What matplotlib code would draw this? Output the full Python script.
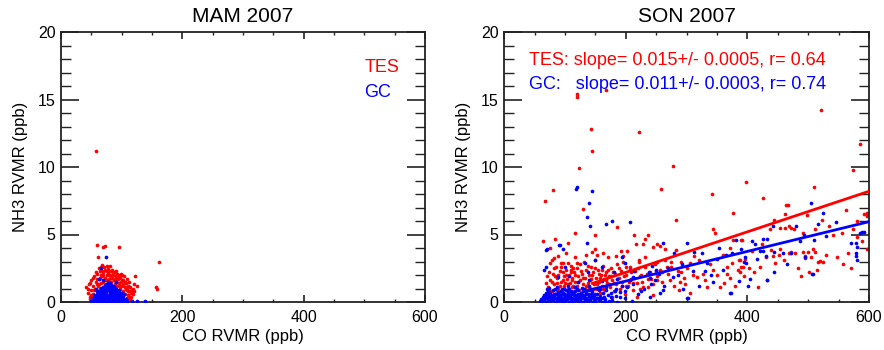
import matplotlib
matplotlib.use("Agg")
import matplotlib.pyplot as plt
import numpy as np
from matplotlib.ticker import MultipleLocator

plt.rcParams['font.family'] = ['Liberation Sans', 'DejaVu Sans']

# ---------------- data (CO ppb, NH3 ppb) ----------------
TES_MAM = [
    (57, 11.2), (60, 4.2), (69, 4.05), (72, 4.15), (95, 4.05), (61, 3.3), (161, 2.96),
    (62, 2.5), (66, 2.6), (68, 2.75), (75, 2.7), (80, 2.7), (78, 2.45), (122, 1.9),
    (156, 1.1), (158, 0.95), (125, 1.2),
    (42, 1.1), (44, 0.7), (46, 1.3), (47, 0.4), (49, 0.9), (50, 1.6), (52, 0.6), (53, 1.2),
    (55, 0.3), (55, 1.9), (57, 0.9), (58, 1.5), (59, 0.5), (60, 2.1), (61, 1.2), (62, 0.8),
    (63, 1.7), (64, 2.3), (65, 1.0), (66, 1.4), (67, 1.9), (68, 0.6), (69, 2.2), (70, 1.5),
    (71, 1.1), (72, 1.8), (73, 2.4), (74, 1.3), (75, 2.0), (76, 1.6), (77, 0.9), (78, 2.2),
    (79, 1.7), (80, 1.3), (81, 2.0), (82, 1.5), (83, 2.3), (84, 1.8), (85, 1.1), (86, 2.0),
    (87, 1.6), (88, 2.2), (89, 1.3), (90, 1.9), (91, 1.5), (92, 2.1), (93, 1.2), (94, 1.7),
    (95, 2.0), (96, 1.4), (97, 1.0), (98, 1.8), (99, 1.5), (100, 2.0), (101, 1.2), (102, 0.8),
    (103, 1.6), (104, 1.9), (105, 1.1), (106, 0.6), (107, 1.4), (108, 1.7), (109, 0.9),
    (110, 1.2), (111, 0.5), (112, 1.5), (113, 0.8), (114, 1.1), (116, 0.4), (117, 0.9),
    (119, 0.6), (120, 1.3), (48, 0.2), (51, 0.1), (56, 1.0), (59, 1.3), (63, 0.3), (66, 2.0),
    (71, 2.6), (77, 2.1), (84, 2.4), (91, 2.3), (99, 2.1), (103, 0.3), (108, 0.3), (113, 0.2),
    (45, 1.0), (48, 1.4), (52, 1.8), (54, 0.9), (57, 2.2), (60, 1.7), (62, 1.3), (65, 1.8),
    (67, 2.3), (70, 2.0), (73, 1.6), (76, 2.3), (79, 2.0), (82, 1.8), (85, 2.1), (88, 1.7),
    (90, 1.6), (93, 1.8), (96, 1.9), (98, 1.2), (100, 1.6), (102, 1.3), (105, 1.5), (107, 1.0),
    (110, 0.8), (112, 1.1), (115, 0.7), (118, 1.0), (121, 0.8), (50, 0.5), (53, 0.4),
    (114, 0.4), (110, 0.5),
]

GC_MAM = [
    (50, 0.05), (53, 0.1), (57, 0.0), (61, 0.08), (64, 0.02), (68, 0.1), (71, 0.04), (75, 0.0),
    (79, 0.07), (82, 0.03), (86, 0.09), (89, 0.01), (93, 0.06), (97, 0.02), (101, 0.08),
    (105, 0.03), (109, 0.05),
    (52, 0.28), (56, 0.33), (59, 0.25), (63, 0.35), (67, 0.3), (70, 0.27), (74, 0.36), (77, 0.31),
    (81, 0.26), (85, 0.34), (88, 0.29), (92, 0.37), (95, 0.25), (99, 0.32), (103, 0.28), (107, 0.22),
    (55, 0.52), (59, 0.58), (62, 0.5), (66, 0.6), (69, 0.55), (73, 0.62), (77, 0.53), (80, 0.59),
    (84, 0.51), (87, 0.57), (91, 0.6), (94, 0.54), (98, 0.49), (102, 0.45),
    (60, 0.78), (64, 0.83), (67, 0.76), (71, 0.85), (74, 0.8), (78, 0.88), (81, 0.79), (85, 0.84),
    (89, 0.77), (93, 0.81), (96, 0.74), (100, 0.7),
    (66, 1.02), (70, 1.08), (73, 1.0), (77, 1.1), (80, 1.05), (84, 0.98), (88, 1.06), (91, 0.95),
    (72, 1.25), (76, 1.3), (79, 1.22), (83, 1.28), (86, 1.18), (78, 1.45), (81, 1.38),
    (74, 3.3), (66, 2.5), (62, 1.7), (90, 1.5), (117, 0.05), (125, 0.05), (139, 0.05),
    (58, 1.0), (96, 0.9), (104, 0.6), (70, 1.6), (83, 0.9),
    (54, 0.18), (60, 0.2), (66, 0.18), (72, 0.2), (78, 0.18), (84, 0.2), (90, 0.18), (96, 0.2),
    (102, 0.18), (106, 0.15), (58, 0.42), (64, 0.45), (70, 0.44), (76, 0.42), (82, 0.45),
    (88, 0.43), (94, 0.44), (100, 0.4), (62, 0.68), (68, 0.7), (74, 0.72), (80, 0.7), (86, 0.7),
    (92, 0.68), (98, 0.62), (68, 0.92), (74, 0.95), (80, 0.94), (86, 0.92), (92, 0.88),
    (75, 1.15), (82, 1.15), (88, 1.15),
]

TES_SON = [
    # outliers
    (119, 15.4), (120, 15.2), (167, 15.7), (142, 12.8), (144, 11.2), (222, 12.6), (123, 9.9),
    (278, 10.1), (80, 8.3), (67, 7.5), (129, 6.9), (258, 8.4), (397, 8.9), (341, 8.0),
    (283, 6.1), (377, 6.6), (426, 7.7), (510, 8.5), (521, 14.2), (585, 11.7), (573, 9.8),
    (596, 6.6), (597, 6.4), (580, 6.0), (562, 6.8), (597, 3.9), (558, 2.8), (525, 3.0),
    (508, 3.9), (484, 2.5), (464, 7.2), (467, 7.2), (462, 6.5), (443, 6.1), (468, 5.6),
    (461, 5.5), (472, 5.5), (498, 6.45), (523, 6.1), (534, 5.6), (592, 6.5), (580, 4.8),
    (389, 4.6), (424, 4.3), (439, 3.85), (468, 3.65), (471, 3.7), (492, 3.7), (500, 3.7),
    (511, 3.7), (504, 3.3), (516, 3.0), (519, 3.05), (495, 3.25), (452, 3.5), (442, 3.4),
    (390, 2.6), (403, 2.5), (386, 3.1), (437, 5.4), (454, 5.5), (476, 5.4), (492, 5.1),
    (511, 5.4), (541, 5.0), (555, 5.1), (574, 5.4), (470, 3.6), (454, 3.9), (495, 3.4),
    (344, 5.4), (346, 5.1), (371, 4.0), (377, 4.6), (391, 4.6), (360, 3.5), (388, 3.1),
    (407, 3.75), (421, 2.6), (366, 2.1),
    # mid region
    (236, 5.0), (213, 5.0), (231, 4.7), (217, 4.3), (229, 4.3), (245, 4.1), (251, 4.3),
    (256, 4.15), (264, 3.9), (283, 3.85), (231, 3.35), (222, 3.1), (202, 3.8), (196, 3.4),
    (251, 3.0), (267, 2.6), (305, 2.9), (312, 3.4), (327, 2.1), (344, 2.4), (366, 2.6),
    (387, 2.25), (355, 1.1), (334, 1.1), (317, 1.85), (289, 1.5), (273, 1.6), (251, 1.6),
    (223, 1.9), (212, 1.4), (201, 1.2), (224, 1.0), (237, 1.1), (245, 0.5), (218, 0.4),
    (305, 0.65), (288, 0.9), (371, 1.8), (392, 2.6), (396, 3.2), (385, 2.4),
    (260, 2.2), (275, 3.0), (290, 2.2), (298, 1.3), (310, 2.0), (320, 3.1), (330, 1.6),
    (338, 2.8), (350, 2.0), (362, 1.4), (375, 2.9), (380, 1.2), (395, 1.9), (410, 2.2),
    (418, 1.1), (430, 3.3), (446, 2.9), (460, 3.1), (478, 3.6), (488, 1.9), (502, 2.2),
    (515, 2.4), (530, 3.5), (548, 3.3), (565, 3.6), (570, 2.5), (588, 4.5),
    (149, 4.95), (117, 5.1), (83, 4.65), (63, 4.5), (105, 4.35), (76, 4.0), (192, 3.8),
    (186, 5.55), (144, 3.7), (152, 3.5), (82, 3.25), (79, 3.1), (109, 2.35), (93, 2.9),
    # dense cluster
    (70, 0.5), (72, 1.1), (75, 1.6), (78, 0.8), (80, 2.1), (82, 1.3), (84, 0.6), (85, 2.6),
    (87, 1.8), (88, 1.0), (90, 0.4), (91, 2.3), (93, 1.5), (95, 0.9), (96, 2.9), (98, 1.9),
    (99, 1.2), (100, 0.6), (101, 2.4), (103, 1.7), (104, 1.0), (106, 2.0), (107, 0.5),
    (108, 1.4), (110, 2.7), (111, 1.1), (112, 1.8), (114, 0.8), (115, 2.2), (116, 1.5),
    (118, 0.4), (119, 2.5), (120, 1.2), (121, 1.9), (123, 0.9), (124, 2.8), (125, 1.6),
    (127, 0.7), (128, 2.1), (129, 1.3), (131, 3.0), (132, 1.0), (133, 1.8), (135, 2.4),
    (136, 0.6), (137, 1.4), (139, 2.0), (140, 1.1), (142, 2.6), (143, 1.7), (145, 0.9),
    (146, 2.2), (148, 1.3), (150, 3.1), (151, 1.8), (153, 1.0), (154, 2.4), (156, 1.5),
    (158, 0.7), (159, 2.0), (161, 1.2), (162, 2.7), (164, 1.7), (166, 0.9), (167, 2.2),
    (169, 1.4), (171, 3.3), (172, 1.9), (174, 1.1), (176, 2.5), (178, 1.6), (180, 0.8),
    (182, 2.1), (184, 1.3), (186, 2.8), (188, 1.8), (190, 1.0), (192, 2.3), (194, 1.5),
    (196, 3.0), (198, 0.6), (200, 2.0), (203, 1.2), (206, 2.6), (209, 1.7), (212, 0.9),
    (215, 2.3), (218, 1.4), (222, 3.0), (225, 2.0), (228, 1.1), (232, 2.6), (236, 1.7),
    (240, 2.2), (244, 1.3), (248, 2.8), (252, 1.9), (256, 2.4), (260, 1.5), (265, 3.1),
    (270, 2.1), (275, 2.6), (280, 1.2), (285, 2.3), (290, 3.0), (295, 1.8), (300, 2.5),
    (76, 2.9), (89, 3.4), (94, 0.2), (102, 3.6), (117, 3.3), (126, 0.3), (134, 3.5),
    (141, 0.4), (149, 3.9), (157, 0.3), (163, 3.6), (177, 0.4), (183, 3.4), (68, 1.4),
    (73, 2.2), (77, 0.3), (86, 1.4), (92, 0.7), (97, 1.6), (105, 2.9), (113, 1.2), (122, 0.5),
    (71, 1.9), (74, 0.9), (79, 1.5), (81, 2.5), (83, 1.9), (86, 0.9), (89, 2.0), (92, 1.2),
    (94, 2.6), (97, 2.2), (100, 1.4), (102, 2.0), (105, 1.3), (109, 2.2), (111, 1.6),
    (113, 2.5), (117, 2.0), (120, 2.9), (122, 1.5), (126, 2.3), (130, 1.8), (134, 1.2),
    (138, 2.7), (141, 1.6), (144, 2.0), (147, 1.0), (149, 2.5), (152, 1.3), (155, 2.1),
    (157, 1.8), (160, 2.4), (163, 1.0), (165, 2.0), (168, 1.6), (170, 2.4), (173, 1.3),
    (175, 1.9), (179, 2.2), (181, 1.4), (185, 1.7), (189, 2.5), (193, 1.2), (197, 1.9),
    (201, 2.6), (205, 1.5), (208, 2.2), (214, 1.8), (220, 2.5), (226, 1.5), (234, 2.1),
    (242, 1.7), (250, 2.3),
]

GC_SON = [
    # outliers / mid
    (118, 8.4), (120, 8.5), (144, 8.2), (139, 7.3), (136, 6.3), (141, 5.6), (178, 6.0),
    (167, 5.8), (206, 5.9), (70, 3.9), (90, 4.2), (504, 7.3), (524, 6.6), (546, 5.9),
    (506, 2.1), (586, 5.1), (578, 4.4), (580, 4.1), (578, 3.4), (371, 0.7), (432, 1.6),
    (300, 0.3), (405, 1.7), (261, 4.4), (279, 3.65), (301, 4.35), (312, 3.7), (325, 3.6),
    (334, 2.9), (353, 4.0), (382, 4.6), (365, 3.5), (395, 3.0), (243, 2.7), (238, 2.2),
    (207, 2.4), (199, 2.9), (193, 3.3), (278, 1.85), (294, 0.95), (261, 0.9), (256, 0.7),
    (302, 0.3), (373, 0.7), (344, 1.5), (330, 2.3), (386, 1.55), (390, 3.9), (516, 5.8),
    (589, 5.2), (592, 5.2), (442, 5.6), (480, 5.65), (493, 5.0), (487, 4.5), (408, 4.5),
    (412, 4.3), (425, 4.65), (433, 4.65), (426, 3.8), (420, 3.8), (396, 3.35), (398, 2.9),
    (415, 3.2), (431, 3.4), (444, 3.7), (458, 3.6), (471, 3.6), (465, 2.8), (495, 3.3),
    (508, 2.1), (443, 2.2), (433, 1.6), (401, 1.2), (571, 4.4), (579, 3.6), (581, 3.1),
    (510, 4.6), (530, 4.9), (350, 3.2), (360, 2.4), (375, 3.6), (69, 3.85), (92, 4.25),
    (96, 3.9), (136, 4.4), (132, 2.9), (66, 2.35), (68, 2.6), (150, 3.1), (160, 2.6),
    # dense cluster
    (58, 0.1), (62, 0.05), (66, 0.15), (69, 0.0), (73, 0.12), (76, 0.04), (80, 0.18),
    (84, 0.02), (87, 0.1), (91, 0.15), (95, 0.0), (98, 0.08), (102, 0.16), (106, 0.03),
    (110, 0.11), (113, 0.0), (117, 0.14), (121, 0.05), (125, 0.1), (129, 0.02), (133, 0.15),
    (137, 0.06), (141, 0.12), (146, 0.0), (150, 0.09), (155, 0.14), (160, 0.03), (166, 0.1),
    (172, 0.05), (178, 0.12), (186, 0.02),
    (63, 0.35), (67, 0.42), (71, 0.3), (74, 0.48), (78, 0.38), (82, 0.45), (86, 0.32),
    (89, 0.5), (93, 0.4), (97, 0.33), (100, 0.47), (104, 0.36), (108, 0.44), (112, 0.3),
    (115, 0.49), (119, 0.39), (123, 0.34), (127, 0.46), (131, 0.41), (135, 0.31),
    (139, 0.48), (144, 0.37), (148, 0.43), (153, 0.32), (158, 0.46), (164, 0.38),
    (170, 0.5), (176, 0.35), (183, 0.44), (190, 0.4),
    (68, 0.65), (72, 0.8), (76, 0.7), (80, 0.88), (85, 0.62), (89, 0.75), (93, 0.85),
    (97, 0.68), (101, 0.9), (105, 0.72), (109, 0.83), (113, 0.64), (117, 0.78), (121, 0.92),
    (126, 0.7), (130, 0.82), (135, 0.66), (140, 0.88), (145, 0.74), (150, 0.62),
    (156, 0.86), (162, 0.7), (168, 0.9), (175, 0.66), (182, 0.8), (190, 0.72), (198, 0.85),
    (74, 1.05), (86, 1.1), (98, 1.0), (104, 1.2), (116, 1.08), (128, 1.02), (140, 1.15),
    (154, 1.05), (168, 1.12), (184, 1.0), (193, 1.22), (202, 1.1), (212, 1.32),
    (88, 1.85), (106, 1.95), (122, 1.5), (140, 1.65), (160, 1.52), (185, 1.7), (212, 1.85),
    (240, 1.75),
    (100, 2.6), (137, 2.2), (180, 2.2), (214, 2.3), (250, 2.4),
    (206, 1.6), (220, 0.6), (230, 1.0), (242, 1.3), (248, 1.6), (255, 2.1), (262, 1.2),
    (270, 2.5), (285, 2.0), (292, 2.8), (310, 2.3), (320, 1.2), (340, 2.0), (225, 0.8),
    (198, 0.3), (210, 0.1), (165, 0.2), (240, 0.4),
    (60, 0.25), (64, 0.22), (68, 0.28), (72, 0.2), (75, 0.26), (79, 0.24), (83, 0.27),
    (86, 0.21), (90, 0.29), (94, 0.23), (99, 0.26), (103, 0.2), (107, 0.28), (111, 0.22),
    (116, 0.27), (120, 0.24), (124, 0.21), (128, 0.29), (132, 0.25), (136, 0.2), (142, 0.27),
    (147, 0.23), (152, 0.28), (157, 0.21), (162, 0.26),
    (66, 0.55), (70, 0.58), (74, 0.6), (77, 0.54), (81, 0.6), (84, 0.56), (88, 0.59),
    (92, 0.55), (96, 0.6), (99, 0.57), (103, 0.55), (107, 0.6), (111, 0.56), (114, 0.58),
    (118, 0.55), (122, 0.6), (126, 0.57), (130, 0.55), (134, 0.59), (138, 0.56), (143, 0.6),
    (148, 0.55), (152, 0.58),
    (71, 0.95), (83, 0.93), (95, 0.95), (107, 0.94), (119, 0.96), (131, 0.99), (143, 1.0),
    (157, 0.97),
]

# fitted lines (slope, intercept) as shown in the panel
TES_FIT = (0.015, -0.80)
GC_FIT = (0.011, -0.65)
TES_FIT_RANGE = (145, 600)
GC_FIT_RANGE = (135, 600)

TITLES = ["MAM 2007", "SON 2007"]
XTICKS = [0, 200, 400, 600]
YTICKS = [0, 5, 10, 15, 20]

RED = '#ff0000'
BLUE = '#0000ff'

fig = plt.figure(figsize=(8.84, 3.5), dpi=100)
ax1 = fig.add_axes([61 / 884, 1 - 302 / 350, 364 / 884, 270 / 350])
ax2 = fig.add_axes([504.3 / 884, 1 - 302 / 350, 364.7 / 884, 270 / 350])

ms = 7


def style(ax, title):
    ax.set_xlim(0, 600)
    ax.set_ylim(0, 20)
    ax.set_xticks(XTICKS)
    ax.set_yticks(YTICKS)
    ax.xaxis.set_minor_locator(MultipleLocator(50))
    ax.yaxis.set_minor_locator(MultipleLocator(1))
    ax.tick_params(axis='x', which='major', direction='in', length=5, width=1.2,
                   top=True, bottom=True, labelsize=11.5, pad=6, color='#222222')
    ax.tick_params(axis='x', which='minor', direction='in', length=2.5, width=1.0,
                   top=True, bottom=True, color='#222222')
    ax.tick_params(axis='y', which='major', direction='in', length=13, width=1.2,
                   left=True, right=True, labelsize=11.5, pad=4, color='#222222')
    ax.tick_params(axis='y', which='minor', direction='in', length=7, width=1.0,
                   left=True, right=True, color='#222222')
    for s in ax.spines.values():
        s.set_linewidth(1.3)
        s.set_color('#222222')
    ax.set_xlabel('CO RVMR (ppb)', fontsize=12, labelpad=3)
    ax.set_ylabel('NH3 RVMR (ppb)', fontsize=12, labelpad=7)
    ax.set_title(title, fontsize=15, pad=7)


for ax, tes, gc, title in [(ax1, TES_MAM, GC_MAM, TITLES[0]), (ax2, TES_SON, GC_SON, TITLES[1])]:
    tx, ty = zip(*tes)
    gx, gy = zip(*gc)
    ax.scatter(tx, ty, s=ms, color=RED, linewidths=0, zorder=2)
    ax.scatter(gx, gy, s=ms, color=BLUE, linewidths=0, zorder=3)
    style(ax, title)

# legend text, left panel
ax1.text(500, 17.0, 'TES', color=RED, fontsize=13)
ax1.text(500, 15.2, 'GC', color=BLUE, fontsize=13)

# fit lines, right panel
xr = np.array(TES_FIT_RANGE)
ax2.plot(xr, TES_FIT[0] * xr + TES_FIT[1], color=RED, lw=2, zorder=4)
xb = np.array(GC_FIT_RANGE)
ax2.plot(xb, GC_FIT[0] * xb + GC_FIT[1], color=BLUE, lw=2, zorder=4)

ax2.text(41, 17.55, 'TES: slope= 0.015+/- 0.0005, r= 0.64', color=RED, fontsize=13)
ax2.text(41, 15.75, 'GC:   slope= 0.011+/- 0.0003, r= 0.74', color=BLUE, fontsize=13)

fig.savefig('out.png', dpi=100)
